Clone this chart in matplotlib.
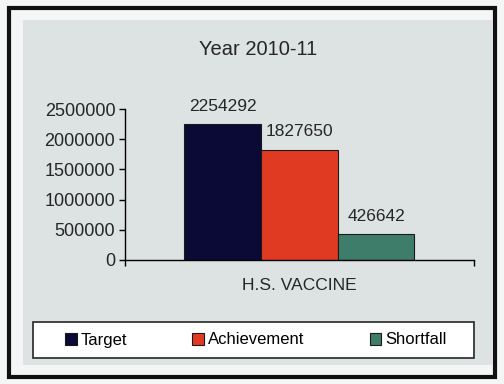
import matplotlib.pyplot as plt
from matplotlib.patches import Rectangle

plt.rcParams['font.family'] = ['Liberation Sans', 'DejaVu Sans']

category = "H.S. VACCINE"
series = ["Target", "Achievement", "Shortfall"]
values = [2254292, 1827650, 426642]
colors = ["#0b0a36", "#e03b22", "#3e7d6a"]
yticks = [0, 500000, 1000000, 1500000, 2000000, 2500000]

fs = 12.5
txt = "#262626"

fig = plt.figure(figsize=(5.04, 3.84), dpi=100)
fig.patch.set_facecolor("#f4f6f6")

# outer black frame, grey chart area, legend box
fig.patches.append(Rectangle((0.018, 0.018), 0.964, 0.962, transform=fig.transFigure,
                             fill=False, edgecolor="#111111", linewidth=3, zorder=-5))
fig.patches.append(Rectangle((0.046, 0.05), 0.93, 0.898, transform=fig.transFigure,
                             facecolor="#dde2e2", edgecolor="none", zorder=-6))
fig.patches.append(Rectangle((33 / 504, 1 - 358 / 384), 441 / 504, 36 / 384,
                             transform=fig.transFigure, facecolor="white",
                             edgecolor=txt, linewidth=1.2, zorder=-4))

ax = fig.add_axes([0.248, 0.323, 0.692, 0.393])
ax.set_facecolor("none")

w = 0.22
xs = [-w, 0, w]
bars = []
for x, v, c, name in zip(xs, values, colors, series):
    b = ax.bar(x, v, width=w, color=c, edgecolor="#1a1a1a", linewidth=0.8, label=name)
    bars.append(b)
    ax.text(x, v + 170000, str(v), ha="center", va="bottom", fontsize=fs, color=txt)

ax.set_xlim(-0.5, 0.5)
ax.set_ylim(0, 2500000)
ax.set_yticks(yticks)
ax.set_yticklabels([str(t) for t in yticks], fontsize=13, color=txt)
ax.set_xticks([-0.5, 0.5])
ax.set_xticklabels([])
ax.tick_params(axis="y", direction="out", length=4, width=1, pad=3)
ax.tick_params(axis="x", direction="out", length=4, width=1)
for s in ["top", "right"]:
    ax.spines[s].set_visible(False)
ax.spines["left"].set_linewidth(1)
ax.spines["bottom"].set_linewidth(1)
ax.text(0.5, -0.17, category, transform=ax.transAxes, ha="center", va="center",
        fontsize=fs, color=txt)

fig.text(0.512, 0.872, "Year 2010-11", ha="center", va="center", fontsize=14.5, color=txt)

leg = fig.legend(handles=[b[0] for b in bars], labels=series, ncol=3,
                 loc="center", bbox_to_anchor=(256 / 504, 1 - 340 / 384),
                 fontsize=12, frameon=False, handlelength=0.7, handleheight=0.7,
                 handletextpad=0.25, columnspacing=3.9, borderaxespad=0)

fig.savefig("out.png", dpi=100, facecolor=fig.get_facecolor())
